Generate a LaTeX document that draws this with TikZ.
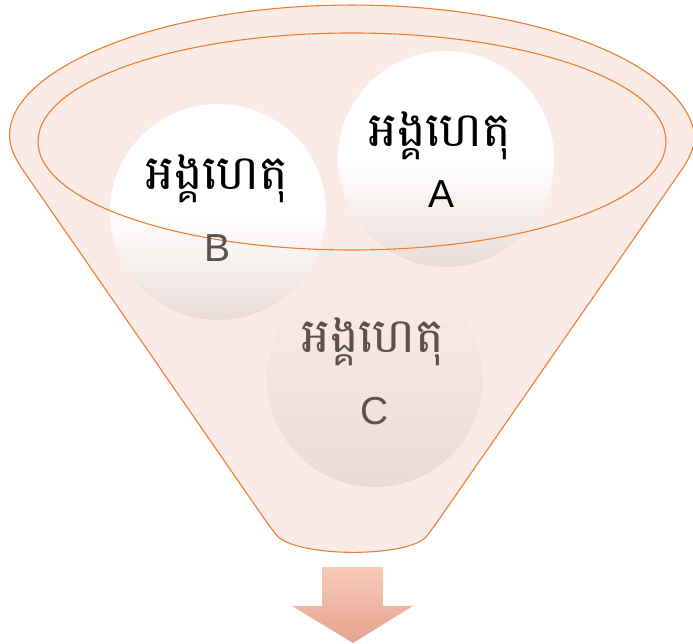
\documentclass[tikz,border=0pt]{standalone}
\usepackage{fontspec}
\setmainfont{Liberation Sans}
\newfontfamily\khmerfont[Script=Khmer]{Battambang}

\definecolor{funnelfill}{HTML}{FBEBE7}
\definecolor{funnelline}{HTML}{ED7D31}
\definecolor{ballgray}{HTML}{E9DCD8}
\definecolor{textgray}{HTML}{5B5250}
\definecolor{arrowtop}{HTML}{F8CAB9}
\definecolor{arrowbot}{HTML}{E6A38F}

% white on top, fading down
\pgfdeclareverticalshading{ballwhite}{100bp}{color(0bp)=(ballgray); color(25bp)=(ballgray);
  color(38bp)=(ballgray!45!white); color(50bp)=(white); color(100bp)=(white)}
% fading into the funnel
\pgfdeclareverticalshading{ballpale}{100bp}{color(0bp)=(ballgray); color(25bp)=(ballgray);
  color(70bp)=(funnelfill); color(100bp)=(funnelfill)}

\tikzset{
  rim/.style={funnelline,line width=1.1pt},
  ball/.style={circle,minimum size=216pt,inner sep=0pt},
  khtext/.style={font=\khmerfont\fontsize{48}{52}\selectfont,inner sep=0pt,anchor=base},
  lettext/.style={font=\fontsize{39}{44}\selectfont,inner sep=0pt,anchor=base}
}

\begin{document}
\begin{tikzpicture}[x=1pt,y=1pt]
\useasboundingbox (0,0) rectangle (693,644);
% funnel body
\draw[rim,fill=funnelfill,rounded corners=10pt]
  (16,484) arc[start angle=188.5,end angle=-8.5,x radius=340,y radius=135]
  -- (433,116) .. controls (410,86) and (295,86) .. (270,117) -- cycle;
\fill[funnelfill] (352,502.5) ellipse[x radius=314,y radius=108.5];
% balls
\node[ball,shading=ballpale] (ballC) at (375,265) {};
\node[ball,shading=ballwhite] (ballB) at (218,432) {};
\node[ball,shading=ballwhite] (ballA) at (446,485) {};
% rim on top
\draw[rim] (352,502.5) ellipse[x radius=314,y radius=108.5];
% labels
\node[khtext] (khA) at (440,497) {អង្គហេតុ};
\node[lettext] (letA) at (442,436) {A};
\node[khtext] (khB) at (217,454) {អង្គហេតុ};
\node[lettext,textgray] (letB) at (218,382) {B};
\node[khtext,textgray] (khC) at (373,291) {អង្គហេតុ};
\node[lettext,textgray] (letC) at (375,219) {C};
% arrow out
\shade[top color=arrowtop,bottom color=arrowbot]
  (322,77) -- (383,77) -- (383,38) -- (413,38) -- (353,1) -- (292,38) -- (322,38) -- cycle;
\end{tikzpicture}
\end{document}
